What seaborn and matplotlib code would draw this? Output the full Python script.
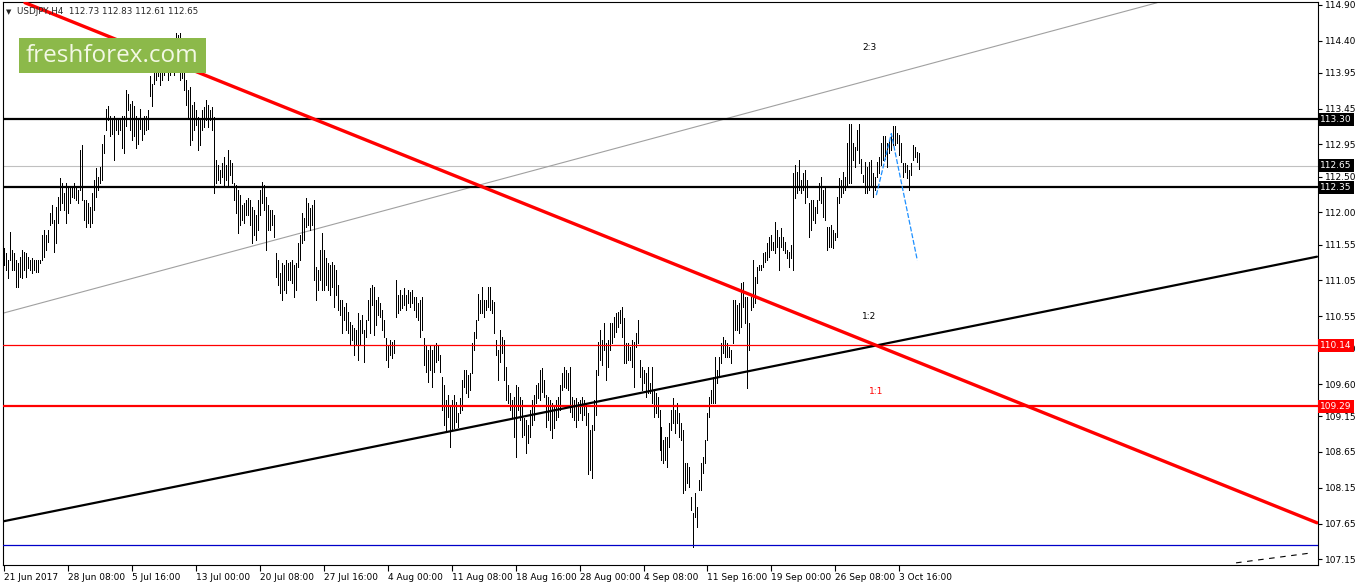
import numpy as np
import pandas as pd
import matplotlib
matplotlib.use("Agg")
import matplotlib.pyplot as plt
import matplotlib.transforms as mtransforms
from matplotlib.patches import Rectangle
import seaborn as sns

# USDJPY H4 bars (high / low)
highs = [
    111.50, 111.43, 111.33, 111.73, 111.47, 111.43, 111.33, 111.29, 111.38, 111.47,
    111.45, 111.43, 111.38, 111.33, 111.36, 111.33, 111.33, 111.33, 111.33, 111.68,
    111.75, 111.68, 111.75, 111.99, 112.10, 111.89, 112.08, 112.22, 112.48, 112.41,
    112.27, 112.41, 112.36, 112.34, 112.36, 112.41, 112.36, 112.31, 112.87, 112.94,
    112.17, 112.17, 112.13, 112.08, 112.27, 112.45, 112.62, 112.50, 112.64, 112.96,
    113.08, 113.45, 113.48, 113.34, 113.29, 113.34, 113.29, 113.31, 113.29, 113.34,
    113.34, 113.71, 113.66, 113.52, 113.55, 113.48, 113.34, 113.29, 113.45, 113.29,
    113.34, 113.34, 113.43, 113.90, 113.80, 113.99, 114.08, 114.18, 114.13, 114.20,
    114.34, 114.41, 114.27, 114.34, 114.41, 114.27, 114.51, 114.48, 114.51, 114.27,
    113.95, 113.85, 113.71, 113.75, 113.50, 113.54, 113.43, 113.33, 113.29, 113.43,
    113.47, 113.57, 113.50, 113.43, 113.47, 113.33, 112.73, 112.66, 112.59, 112.69,
    112.77, 112.66, 112.87, 112.73, 112.69, 112.41, 112.38, 112.31, 112.24, 112.10,
    112.13, 112.17, 112.20, 112.17, 112.07, 112.03, 111.96, 112.17, 112.31, 112.42,
    112.38, 112.21, 112.10, 112.03, 112.03, 111.96, 111.43, 111.33, 111.15, 111.29,
    111.26, 111.33, 111.29, 111.31, 111.33, 111.26, 111.29, 111.57, 111.68, 111.99,
    111.92, 112.20, 112.13, 112.06, 112.10, 112.17, 111.24, 111.19, 111.47, 111.71,
    111.47, 111.36, 111.29, 111.26, 111.31, 111.26, 111.19, 110.98, 110.77, 110.77,
    110.68, 110.73, 110.61, 110.47, 110.42, 110.38, 110.35, 110.59, 110.49, 110.56,
    110.35, 110.49, 110.77, 110.94, 110.98, 110.96, 110.77, 110.82, 110.73, 110.63,
    110.49, 110.24, 110.14, 110.21, 110.19, 110.21, 111.05, 110.84, 110.91, 110.84,
    110.94, 110.84, 110.91, 110.88, 110.91, 110.82, 110.82, 110.73, 110.77, 110.82,
    110.24, 110.14, 110.08, 110.14, 110.08, 110.14, 110.17, 110.14, 110.01, 109.70,
    109.59, 109.38, 109.45, 109.31, 109.38, 109.45, 109.35, 109.19, 109.40, 109.66,
    109.80, 109.80, 109.73, 109.75, 110.17, 110.33, 110.49, 110.86, 110.77, 110.96,
    110.77, 110.77, 110.96, 110.96, 110.77, 110.75, 110.21, 110.08, 110.35, 110.26,
    110.21, 109.84, 109.59, 109.47, 109.38, 109.42, 109.59, 109.56, 109.42, 109.38,
    109.13, 109.10, 109.03, 109.24, 109.38, 109.45, 109.59, 109.61, 109.80, 109.82,
    109.66, 109.45, 109.42, 109.38, 109.33, 109.28, 109.38, 109.42, 109.59, 109.75,
    109.84, 109.80, 109.75, 109.84, 109.42, 109.38, 109.40, 109.35, 109.38, 109.42,
    109.38, 109.33, 109.19, 108.96, 109.03, 109.38, 109.80, 110.19, 110.35, 110.21,
    110.45, 110.17, 110.21, 110.45, 110.45, 110.54, 110.59, 110.61, 110.63, 110.68,
    110.52, 110.17, 110.17, 110.12, 110.21, 110.19, 110.31, 110.49, 109.94, 109.84,
    109.80, 109.75, 109.84, 109.61, 109.84, 109.52, 109.47, 109.42, 109.24, 109.00,
    108.82, 108.86, 108.86, 109.05, 109.24, 109.40, 109.24, 109.33, 109.19, 109.05,
    108.96, 108.49, 108.49, 108.44, 108.02, 107.79, 108.08, 107.88, 108.26, 108.49,
    108.58, 108.82, 109.19, 109.42, 109.52, 109.70, 109.98, 109.80, 109.98, 110.17,
    110.26, 110.21, 110.17, 110.12, 110.08, 110.77, 110.77, 110.70, 110.73, 111.01,
    111.02, 110.82, 110.82, 110.45, 110.82, 111.33, 111.10, 111.24, 111.26, 111.26,
    111.43, 111.45, 111.57, 111.66, 111.68, 111.59, 111.87, 111.75, 111.66, 111.78,
    111.66, 111.59, 111.47, 111.45, 111.54, 112.55, 112.66, 112.57, 112.73, 112.45,
    112.55, 112.59, 112.45, 112.13, 112.17, 112.17, 112.08, 112.17, 112.41, 112.50,
    112.31, 112.36, 111.80, 111.80, 111.82, 111.75, 111.71, 112.22, 112.48, 112.45,
    112.57, 112.50, 112.97, 113.24, 113.24, 112.97, 112.92, 113.15, 113.24, 112.75,
    112.52, 112.71, 112.64, 112.71, 112.73, 112.55, 112.50, 112.71, 112.78, 112.97,
    113.06, 113.06, 112.97, 113.01, 113.08, 113.20, 113.20, 113.11, 113.08, 112.97,
    112.69, 112.69, 112.66, 112.59, 112.69, 112.94, 112.92, 112.85, 112.83,
]
lows = [
    111.26, 111.19, 111.08, 111.33, 111.19, 111.19, 110.96, 110.96, 111.10, 111.08,
    111.19, 111.10, 111.22, 111.19, 111.15, 111.19, 111.17, 111.17, 111.29, 111.33,
    111.38, 111.47, 111.59, 111.82, 111.85, 111.45, 111.57, 111.85, 112.03, 112.13,
    112.03, 111.85, 111.99, 112.13, 112.22, 112.20, 112.17, 112.13, 112.31, 112.17,
    111.89, 111.80, 111.85, 111.80, 111.85, 112.03, 112.22, 112.31, 112.41, 112.45,
    112.83, 113.15, 113.29, 113.06, 113.10, 112.73, 113.15, 113.10, 113.15, 112.90,
    112.83, 113.20, 113.43, 113.15, 113.01, 113.06, 112.90, 112.96, 113.17, 113.01,
    113.10, 113.15, 113.17, 113.62, 113.48, 113.80, 113.85, 113.90, 113.78, 113.85,
    113.92, 113.99, 113.85, 113.92, 114.06, 113.92, 114.13, 113.99, 113.85, 113.88,
    113.71, 113.50, 113.33, 112.94, 113.01, 113.15, 113.22, 112.87, 112.94, 113.15,
    113.19, 113.29, 113.19, 113.29, 113.15, 112.27, 112.41, 112.45, 112.41, 112.49,
    112.35, 112.45, 112.35, 112.52, 112.41, 112.17, 111.99, 111.71, 111.82, 111.89,
    111.85, 111.96, 111.96, 111.82, 111.57, 111.68, 111.61, 111.75, 111.96, 112.13,
    112.03, 111.47, 111.75, 111.75, 111.82, 111.66, 111.10, 110.98, 110.87, 110.77,
    110.91, 110.87, 111.05, 111.05, 111.01, 110.82, 110.91, 111.24, 111.33, 111.57,
    111.61, 111.80, 111.82, 111.75, 111.82, 111.05, 110.77, 110.91, 111.05, 110.91,
    110.91, 110.98, 110.91, 110.84, 110.96, 110.68, 110.84, 110.63, 110.56, 110.31,
    110.49, 110.35, 110.31, 110.14, 110.21, 110.01, 110.14, 109.94, 110.14, 110.31,
    109.91, 110.26, 110.49, 110.31, 110.70, 110.28, 110.42, 110.56, 110.54, 110.35,
    110.26, 109.94, 109.84, 110.01, 109.96, 110.04, 110.54, 110.59, 110.63, 110.66,
    110.70, 110.63, 110.73, 110.68, 110.73, 110.63, 110.54, 110.49, 110.26, 110.35,
    109.87, 109.77, 109.63, 109.80, 109.56, 109.77, 109.91, 109.94, 109.77, 109.24,
    109.03, 108.96, 109.14, 108.72, 108.96, 108.99, 109.07, 109.00, 109.19, 109.24,
    109.56, 109.47, 109.42, 109.52, 109.75, 110.08, 110.24, 110.49, 110.59, 110.59,
    110.54, 110.63, 110.68, 110.63, 110.59, 110.31, 110.01, 109.66, 109.91, 110.04,
    109.66, 109.38, 109.33, 109.24, 109.14, 108.86, 108.58, 109.24, 109.10, 108.86,
    108.89, 108.63, 108.77, 108.86, 109.03, 109.10, 109.33, 109.40, 109.38, 109.49,
    109.42, 109.00, 109.10, 108.96, 108.84, 108.98, 109.10, 109.14, 109.24, 109.52,
    109.56, 109.54, 109.52, 109.21, 109.14, 109.10, 109.00, 109.10, 109.19, 109.10,
    109.17, 109.03, 108.34, 108.40, 108.28, 108.96, 109.17, 109.73, 109.94, 109.87,
    110.08, 109.66, 109.84, 110.08, 110.17, 110.26, 110.33, 110.40, 110.45, 110.26,
    109.89, 109.89, 109.94, 109.94, 109.84, 109.56, 110.12, 110.17, 109.70, 109.52,
    109.61, 109.42, 109.47, 109.47, 109.33, 109.14, 109.19, 109.14, 108.68, 108.54,
    108.50, 108.54, 108.44, 108.72, 108.96, 109.05, 108.91, 109.05, 108.86, 108.82,
    108.08, 108.12, 108.21, 108.16, 107.84, 107.32, 107.74, 107.60, 108.12, 108.12,
    108.35, 108.50, 108.82, 109.14, 109.33, 109.33, 109.33, 109.61, 109.70, 109.89,
    110.04, 109.98, 109.98, 109.98, 109.89, 110.17, 110.35, 110.35, 110.31, 110.40,
    110.68, 110.45, 109.54, 110.08, 110.63, 110.68, 110.73, 111.01, 111.19, 111.19,
    111.24, 111.31, 111.33, 111.38, 111.47, 111.47, 111.43, 111.52, 111.19, 111.52,
    111.47, 111.43, 111.36, 111.24, 111.36, 111.19, 112.20, 112.27, 112.31, 112.27,
    112.31, 112.13, 112.22, 111.66, 111.75, 111.89, 111.85, 111.99, 112.17, 112.13,
    111.94, 111.89, 111.47, 111.52, 111.52, 111.50, 111.61, 111.66, 112.13, 112.22,
    112.27, 112.31, 112.36, 112.41, 112.41, 112.73, 112.64, 112.87, 112.69, 112.55,
    112.43, 112.27, 112.27, 112.31, 112.36, 112.22, 112.31, 112.50, 112.55, 112.66,
    112.73, 112.75, 112.64, 112.83, 112.87, 112.94, 112.94, 112.97, 112.80, 112.71,
    112.50, 112.57, 112.48, 112.31, 112.52, 112.73, 112.78, 112.71, 112.61,
]

date_labels = ["21 Jun 2017", "28 Jun 08:00", "5 Jul 16:00", "13 Jul 00:00",
               "20 Jul 08:00", "27 Jul 16:00", "4 Aug 00:00", "11 Aug 08:00",
               "18 Aug 16:00", "28 Aug 00:00", "4 Sep 08:00", "11 Sep 16:00",
               "19 Sep 00:00", "26 Sep 08:00", "3 Oct 16:00"]
price_ticks = [107.15, 107.65, 108.15, 108.65, 109.15, 109.60, 110.10, 110.55,
               111.05, 111.55, 112.00, 112.50, 112.95, 113.45, 113.95, 114.40, 114.90]
last_ohlc = [112.73, 112.83, 112.61, 112.65]

# horizontal levels
black_levels = [113.30, 112.35]
current_level = 112.65
red_thin_level = 110.14
red_thick_level = 109.29
blue_level = 107.35

# trend lines (bar index, price)
red_trend_bar = [10.5, 657]
red_trend_price = [114.93, 107.66]
black_trend_bar = [-0.5, 657]
black_trend_price = [107.68, 111.38]
gray_trend_bar = [-0.5, 577]
gray_trend_price = [110.59, 114.93]
blue_path_bar = [436.5, 444, 457]
blue_path_price = [112.24, 113.10, 111.33]
dash_bar = [616.5, 654.5]
dash_price = [107.10, 107.24]

ratio_labels = ["2:3", "1:2", "1:1"]
ratio_bar = [433, 433, 436.5]
ratio_price = [114.31, 110.54, 109.50]
ratio_colors = ["black", "black", "red"]

W, H = 1358, 584
sns.set_style("white")
plt.rcParams["font.family"] = ["DejaVu Sans"]

fig = plt.figure(figsize=(W / 100, H / 100), dpi=100)
ax = fig.add_axes([3 / W, 19 / H, 1315 / W, 563 / H])

n = len(highs)
bars = pd.DataFrame({"bar": list(range(n)) * 2, "price": highs + lows})
sns.lineplot(data=bars, x="bar", y="price", units="bar", estimator=None,
             color="black", linewidth=0.5, sort=False, antialiased=False,
             legend=False, ax=ax, zorder=3)

# levels
for lv in black_levels:
    ax.axhline(lv, color="black", lw=1.6, zorder=4)
ax.axhline(current_level, color="#c0c0c0", lw=0.8, zorder=1)
ax.axhline(red_thin_level, color="red", lw=0.9, zorder=4)
ax.axhline(red_thick_level, color="red", lw=1.6, zorder=4)
ax.axhline(blue_level, color="#0000c8", lw=0.9, zorder=4)

# trend lines
sns.lineplot(x=gray_trend_bar, y=gray_trend_price, color="#a0a0a0", lw=0.8, ax=ax, zorder=2)
sns.lineplot(x=black_trend_bar, y=black_trend_price, color="black", lw=1.6, ax=ax, zorder=4)
sns.lineplot(x=red_trend_bar, y=red_trend_price, color="red", lw=2.4, ax=ax, zorder=5)
sns.lineplot(x=blue_path_bar, y=blue_path_price, color="#1e90ff", lw=0.9,
             linestyle=(0, (4, 1.5)), sort=False, ax=ax, zorder=5)
sns.lineplot(x=dash_bar, y=dash_price, color="black", lw=0.8,
             linestyle=(0, (5, 5)), ax=ax, zorder=4)

for lab, xb, yp, c in zip(ratio_labels, ratio_bar, ratio_price, ratio_colors):
    ax.text(xb, yp, lab, color=c, fontsize=6.5, ha="center", va="center", zorder=6)

ax.set_xlim(-0.5, 657.5)
ax.set_ylim(107.07, 114.94)
ax.set_xlabel("")
ax.set_ylabel("")

ax.yaxis.tick_right()
ax.set_yticks(price_ticks)
ax.set_yticklabels([f"{v:.2f}" for v in price_ticks])
ax.set_xticks([32 * k for k in range(len(date_labels))])
ax.set_xticklabels(date_labels, ha="left")
ax.tick_params(axis="y", right=True, left=False, length=3, width=0.8, pad=2,
               labelsize=6.5, colors="black")
ax.tick_params(axis="x", bottom=True, length=4, width=0.8, pad=2,
               labelsize=6.5, colors="black")
for lbl in ax.get_xticklabels():
    lbl.set_horizontalalignment("left")
for sp in ax.spines.values():
    sp.set_visible(True)
    sp.set_color("black")
    sp.set_linewidth(0.8)

# price markers on the right axis
trans = mtransforms.blended_transform_factory(ax.transAxes, ax.transData)
markers = [(113.30, "black"), (112.65, "black"), (112.35, "black"),
           (110.14, "red"), (109.29, "red")]
for val, bg in markers:
    ax.text(1.0018, val, f"{val:.2f}", transform=trans, ha="left", va="center",
            fontsize=6.5, color="white", clip_on=False, zorder=10,
            bbox=dict(boxstyle="square,pad=0.22", fc=bg, ec="none"))

# header
fig.text(6 / W, 1 - 12 / H, "\u25bc", fontsize=5, ha="left", va="center")
fig.text(17 / W, 1 - 12 / H,
         "USDJPY,H4  " + " ".join(f"{v:.2f}" for v in last_ohlc),
         fontsize=6.3, ha="left", va="center")

# logo
fig.patches.append(Rectangle((19 / W, 1 - 73 / H), 187 / W, 35 / H,
                             transform=fig.transFigure, fc="#8cb94a", ec="none",
                             zorder=10))
fig.text(112 / W, 1 - 56 / H, "freshforex.com", fontsize=17.5, color="#f3f8e4",
         family="Open Sans", ha="center", va="center", zorder=11)

fig.savefig("out.png", dpi=100)
